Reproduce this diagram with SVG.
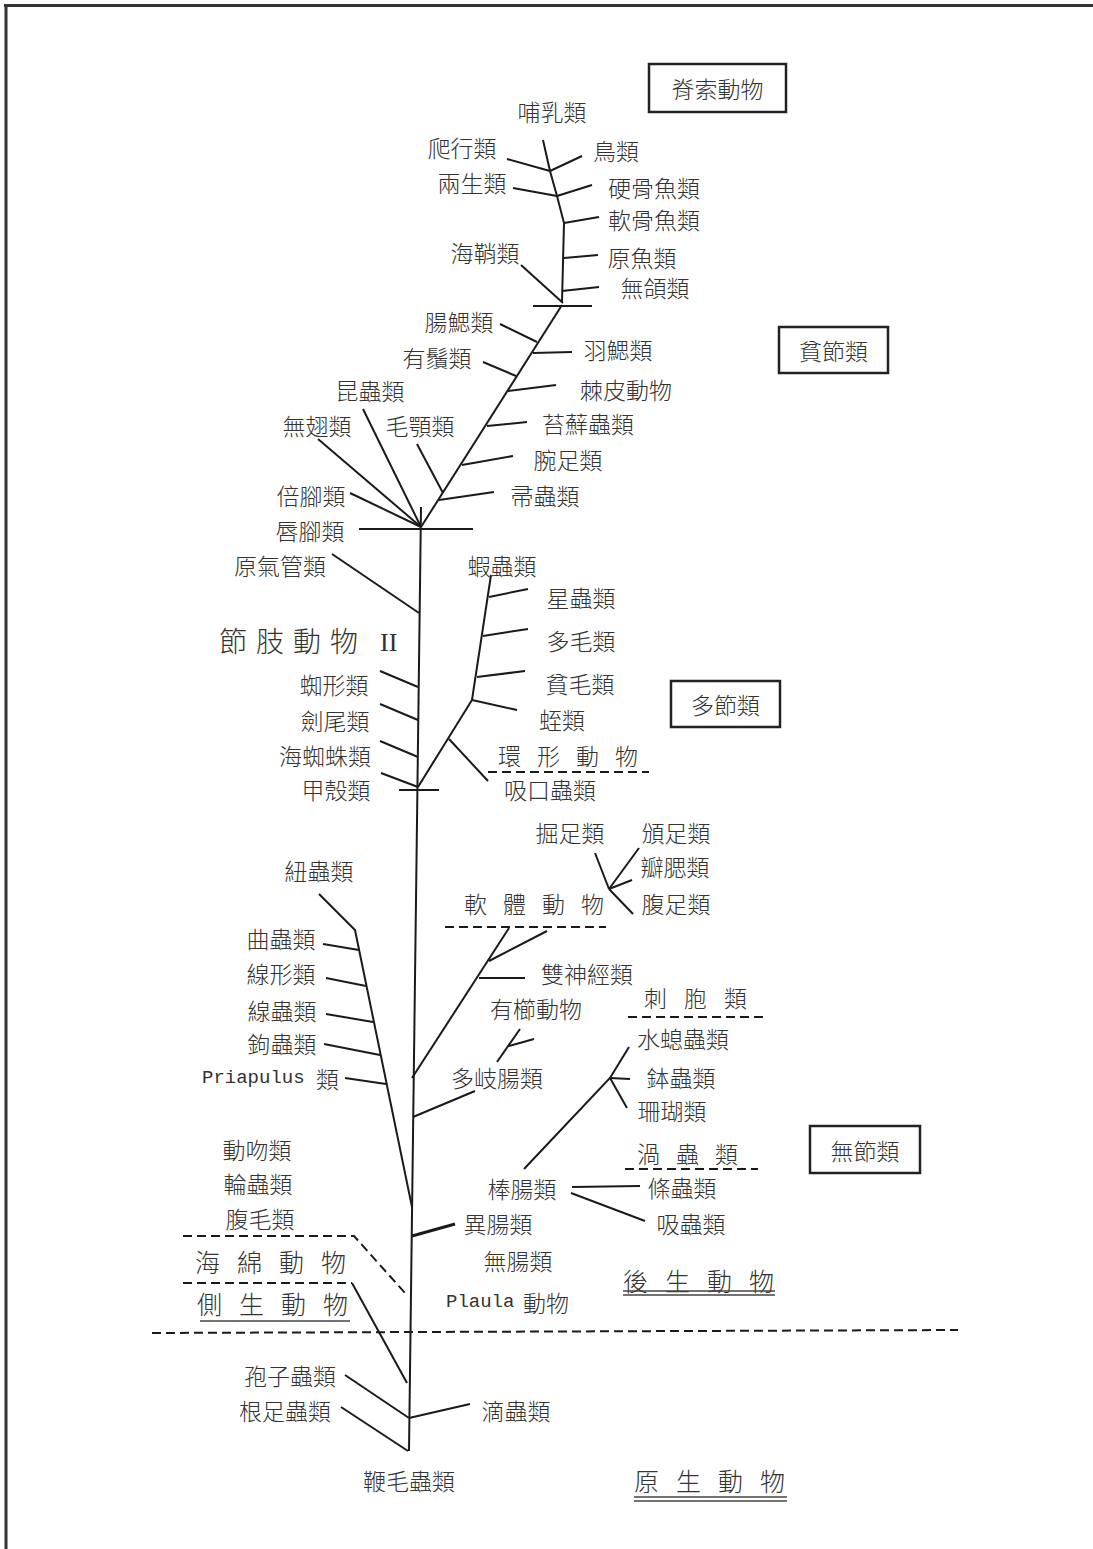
<svg xmlns="http://www.w3.org/2000/svg" width="1093" height="1549" viewBox="0 0 1093 1549">
<style>
text{font-family:"Noto Sans CJK TC","Noto Sans CJK JP",sans-serif;font-size:23px;font-weight:300;fill:#333;dominant-baseline:central;}
.c{text-anchor:middle;}
.g{font-size:25px;letter-spacing:17px;}
.s{letter-spacing:16px;}
.lat{font-family:"Liberation Mono",monospace;font-size:19px;font-weight:400;}
.rom{font-family:"Liberation Serif",serif;font-size:26px;font-weight:400;}
line,polyline{stroke:#1a1a1a;stroke-width:2;fill:none;}
.d{stroke-dasharray:9 5;}
.box{fill:#fff;stroke:#222;stroke-width:2.5;}
.u{stroke:#444;stroke-width:1.5;}
</style>
<rect width="1093" height="1549" fill="#fff"/>
<g id="frame"><line x1="4" y1="5.5" x2="1093" y2="5.5" style="stroke:#333;stroke-width:3"/><line x1="6" y1="4" x2="6" y2="1549" style="stroke:#333;stroke-width:3"/></g>
<g id="connectors">
<polyline points="543,140 550,171 557,196 564,223 562,302"/>
<line x1="507" y1="159" x2="550" y2="171"/><line x1="550" y1="171" x2="582" y2="156"/>
<line x1="513" y1="188" x2="557" y2="196"/><line x1="557" y1="196" x2="592" y2="185"/>
<line x1="564" y1="223" x2="599" y2="217"/><line x1="564" y1="258" x2="598" y2="255"/>
<line x1="562" y1="291" x2="599" y2="287"/><line x1="521" y1="265" x2="563" y2="303"/>
<line x1="533" y1="306" x2="592" y2="306"/>
<line x1="562" y1="305" x2="421" y2="527"/>
<line x1="500" y1="324" x2="537" y2="342"/><line x1="533" y1="353" x2="572" y2="352"/>
<line x1="483" y1="362" x2="516" y2="376"/><line x1="508" y1="391" x2="556" y2="385"/>
<line x1="487" y1="426" x2="527" y2="422"/><line x1="462" y1="465" x2="513" y2="456"/>
<line x1="439" y1="500" x2="494" y2="492"/><line x1="417" y1="444" x2="443" y2="493"/>
<line x1="363" y1="409" x2="421" y2="527"/><line x1="318" y1="439" x2="421" y2="527"/>
<line x1="350" y1="493" x2="421" y2="527"/><line x1="359" y1="529" x2="473" y2="529"/>
<line x1="421" y1="507" x2="409" y2="1451"/>
<line x1="332" y1="554" x2="419" y2="613"/>
<line x1="380" y1="671" x2="418" y2="687"/><line x1="380" y1="704" x2="418" y2="720"/>
<line x1="380" y1="741" x2="418" y2="757"/><line x1="381" y1="773" x2="418" y2="787"/>
<line x1="399" y1="790" x2="439" y2="790"/>
<polyline points="418,787 472,700 491,575"/>
<line x1="489" y1="597" x2="528" y2="589"/><line x1="483" y1="636" x2="528" y2="629"/>
<line x1="477" y1="677" x2="525" y2="671"/><line x1="472" y1="700" x2="517" y2="710"/>
<line x1="449" y1="739" x2="488" y2="781"/>
<line class="d" x1="488" y1="772" x2="649" y2="772"/>
<line x1="595" y1="853" x2="609" y2="889"/><line x1="609" y1="889" x2="639" y2="848"/>
<line x1="609" y1="889" x2="632" y2="880"/><line x1="609" y1="889" x2="633" y2="914"/>
<line class="d" x1="445" y1="927" x2="606" y2="927"/>
<polyline points="319,894 355,930 412,1207"/>
<line x1="323" y1="944" x2="359" y2="950"/><line x1="326" y1="978" x2="366" y2="986"/>
<line x1="326" y1="1014" x2="373" y2="1022"/><line x1="324" y1="1044" x2="380" y2="1055"/>
<line x1="345" y1="1078" x2="386" y2="1084"/>
<line x1="412" y1="1078" x2="509" y2="928"/>
<line x1="489" y1="961" x2="547" y2="931"/><line x1="479" y1="978" x2="525" y2="978"/>
<line x1="520" y1="1029" x2="497" y2="1062"/><line x1="509" y1="1046" x2="534" y2="1039"/>
<line x1="413" y1="1117" x2="475" y2="1091"/>
<polyline points="629,1047 610,1078 524,1169"/>
<line x1="610" y1="1078" x2="630" y2="1079"/><line x1="610" y1="1078" x2="627" y2="1108"/>
<line class="d" x1="628" y1="1017" x2="763" y2="1017"/>
<line class="d" x1="625" y1="1169" x2="758" y2="1169"/>
<line x1="572" y1="1187" x2="640" y2="1186"/><line x1="571" y1="1193" x2="645" y2="1221"/>
<line x1="412" y1="1236" x2="455" y2="1224" style="stroke-width:3"/>
<polyline class="d" points="183,1236 354,1236 405,1293"/>
<line class="d" x1="183" y1="1283" x2="352" y2="1283"/>
<line x1="352" y1="1283" x2="407" y2="1383"/>
<line class="d" x1="152" y1="1333" x2="958" y2="1330"/>
<line x1="345" y1="1375" x2="409" y2="1418"/><line x1="341" y1="1407" x2="408" y2="1451"/>
<line x1="409" y1="1418" x2="470" y2="1404"/>
</g>
<g id="box-chordata"><rect class="box" x="649" y="64" width="137" height="48"/><text class="c" x="717.5" y="88">脊索動物</text></g>
<g id="box-oligomera"><rect class="box" x="779" y="327" width="109" height="46"/><text class="c" x="833.5" y="350">貧節類</text></g>
<g id="box-polymera"><rect class="box" x="671" y="681" width="109" height="46"/><text class="c" x="725.5" y="704">多節類</text></g>
<g id="box-amera"><rect class="box" x="810" y="1126" width="110" height="47"/><text class="c" x="865" y="1150">無節類</text></g>
<g id="chordates">
<text class="c" x="552" y="111">哺乳類</text>
<text class="c" x="462" y="147">爬行類</text>
<text class="c" x="616" y="150">鳥類</text>
<text class="c" x="472" y="182">兩生類</text>
<text class="c" x="654" y="187">硬骨魚類</text>
<text class="c" x="654" y="219">軟骨魚類</text>
<text class="c" x="485" y="252">海鞘類</text>
<text class="c" x="642" y="257">原魚類</text>
<text class="c" x="655" y="287">無頜類</text>
</g>
<g id="oligomera">
<text class="c" x="459" y="321">腸鰓類</text>
<text class="c" x="618" y="349">羽鰓類</text>
<text class="c" x="437" y="357">有鬚類</text>
<text class="c" x="626" y="389">棘皮動物</text>
<text class="c" x="370" y="390">昆蟲類</text>
<text class="c" x="317" y="425">無翅類</text>
<text class="c" x="420" y="425">毛顎類</text>
<text class="c" x="588" y="423">苔蘚蟲類</text>
<text class="c" x="568" y="459">腕足類</text>
<text class="c" x="545" y="495">帚蟲類</text>
<text class="c" x="311" y="495">倍腳類</text>
<text class="c" x="310" y="530">唇腳類</text>
</g>
<g id="arthropoda">
<text class="c" x="280" y="565">原氣管類</text>
<text x="219" y="640" style="font-size:28px;letter-spacing:9px">節肢動物</text>
<text class="rom" x="380" y="642">II</text>
<text class="c" x="334" y="684">蜘形類</text>
<text class="c" x="335" y="720">劍尾類</text>
<text class="c" x="325" y="755">海蜘蛛類</text>
<text class="c" x="336" y="789">甲殼類</text>
</g>
<g id="annelida">
<text class="c" x="502" y="565">蝦蟲類</text>
<text class="c" x="581" y="597">星蟲類</text>
<text class="c" x="581" y="640">多毛類</text>
<text class="c" x="580" y="683">貧毛類</text>
<text class="c" x="562" y="719">蛭類</text>
<text class="s" x="498" y="755">環形動物</text>
<text class="c" x="550" y="789">吸口蟲類</text>
</g>
<g id="mollusca">
<text class="c" x="570" y="832">掘足類</text>
<text class="c" x="676" y="832">頒足類</text>
<text class="c" x="675" y="866">瓣腮類</text>
<text class="c" x="676" y="903">腹足類</text>
<text class="s" x="464" y="903">軟體動物</text>
<text class="c" x="587" y="973">雙神經類</text>
<text class="c" x="536" y="1008">有櫛動物</text>
<text class="c" x="497" y="1077">多岐腸類</text>
</g>
<g id="nemertea">
<text class="c" x="319" y="870">紐蟲類</text>
<text class="c" x="281" y="938">曲蟲類</text>
<text class="c" x="281" y="973">線形類</text>
<text class="c" x="282" y="1010">線蟲類</text>
<text class="c" x="282" y="1043">鉤蟲類</text>
<text class="lat" x="202" y="1078">Priapulus</text>
<text x="316" y="1078">類</text>
<text class="c" x="257" y="1149">動吻類</text>
<text class="c" x="258" y="1183">輪蟲類</text>
<text class="c" x="260" y="1218">腹毛類</text>
</g>
<g id="cnidaria">
<text x="644" y="997" style="letter-spacing:17px">刺胞類</text>
<text class="c" x="683" y="1038">水螅蟲類</text>
<text class="c" x="681" y="1077">鉢蟲類</text>
<text class="c" x="672" y="1110">珊瑚類</text>
<text class="c" x="522" y="1188">棒腸類</text>
</g>
<g id="platyhelminthes">
<text x="637" y="1153" style="letter-spacing:16px">渦蟲類</text>
<text class="c" x="682" y="1187">條蟲類</text>
<text class="c" x="691" y="1223">吸蟲類</text>
<text class="c" x="498" y="1223">異腸類</text>
<text class="c" x="518" y="1260">無腸類</text>
<text class="lat" x="446" y="1302">Plaula</text>
<text x="523" y="1302">動物</text>
</g>
<g id="metazoa"><text class="g" x="623" y="1280">後生動物</text><line class="u" x1="623" y1="1291" x2="775" y2="1291"/><line class="u" x1="623" y1="1295" x2="775" y2="1295"/></g>
<g id="porifera"><text class="g" x="195" y="1261">海綿動物</text></g>
<g id="parazoa"><text class="g" x="197" y="1303">側生動物</text><line class="u" x1="200" y1="1321" x2="350" y2="1321"/></g>
<g id="protozoa">
<text class="c" x="290" y="1375">孢子蟲類</text>
<text class="c" x="285" y="1410">根足蟲類</text>
<text class="c" x="516" y="1410">滴蟲類</text>
<text class="c" x="409" y="1480">鞭毛蟲類</text>
<text class="g" x="634" y="1480">原生動物</text>
<line class="u" x1="634" y1="1497" x2="787" y2="1497"/><line class="u" x1="634" y1="1501" x2="787" y2="1501"/>
</g>
</svg>
